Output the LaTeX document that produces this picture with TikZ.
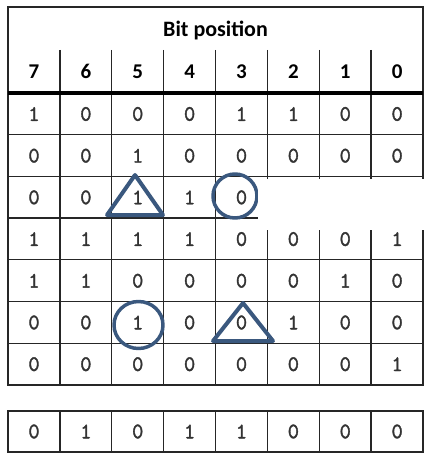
\documentclass[tikz,border=0pt]{standalone}
\usepackage{fontspec}
\setmainfont{Carlito}
\newfontfamily\bitfont[FakeBold=1.6]{Latin Modern Mono}
\usetikzlibrary{positioning}
\definecolor{markblue}{RGB}{58,88,126}
\tikzset{x=1pt,y=-1pt}
\tikzset{grid/.style={line width=1.3pt,black!85}}
\tikzset{bitcell/.style={inner sep=0pt,font=\bitfont\fontsize{22}{22}\selectfont,text=black!80}}
\tikzset{headcell/.style={inner sep=0pt,font=\bfseries\fontsize{21}{21}\selectfont}}
\tikzset{markshape/.style={draw=markblue,line width=4pt,line join=round}}

\begin{document}
\begin{tikzpicture}
    \useasboundingbox (0,0) rectangle (443,457);
    % header
    \node[headcell,font=\bfseries\fontsize{22}{22}\selectfont] (title) at (215.5,30) {Bit position};
    \foreach \h [count=\c] in {7,6,5,4,3,2,1,0}
        \node[headcell] (h\c) at ({34+51.875*(\c-1)},71.5) {\h};
    % grid lines
    \draw[grid] (8,7) rectangle (423,385);
    \foreach \c in {1,...,7}
        \draw[grid] ({8+51.875*\c},50) -- ({8+51.875*\c},385);
    \foreach \r in {1,...,6}
        \draw[grid] (8,{93+41.7*\r}) -- (423,{93+41.7*\r});
    \draw[line width=3.4pt] (8,93) -- (423,93);
    % bits
    \foreach \row [count=\r] in {{1,0,0,0,1,1,0,0},{0,0,1,0,0,0,0,0},{0,0,1,1,0},
            {1,1,1,1,0,0,0,1},{1,1,0,0,0,0,1,0},{0,0,1,0,0,1,0,0},{0,0,0,0,0,0,0,1}}
        \foreach \b [count=\c] in \row
            \node[bitcell] (c\r-\c) at ({34+51.875*(\c-1)},{114+41.7*(\r-1)}) {\b};
    % result row
    \draw[grid] (8,411) rectangle (423,452);
    \foreach \c in {1,...,7}
        \draw[grid] ({8+51.875*\c},411) -- ({8+51.875*\c},452);
    \foreach \b [count=\c] in {0,1,0,1,1,0,0,0}
        \node[bitcell] (s\c) at ({34+51.875*(\c-1)},431.5) {\b};
    % marks
    \draw[markshape] (135,175) -- (163,215) -- (107,215) -- cycle;
    \draw[markshape,line width=3.5pt] (235,196) circle (22);
    \draw[markshape,line width=3.5pt] (138.5,325) ellipse (24.5 and 23.5);
    \draw[markshape] (243,303) -- (273,341) -- (213,341) -- cycle;
    % blanked part
    \fill[white] (258,178.5) rectangle (427,230);
\end{tikzpicture}
\end{document}
